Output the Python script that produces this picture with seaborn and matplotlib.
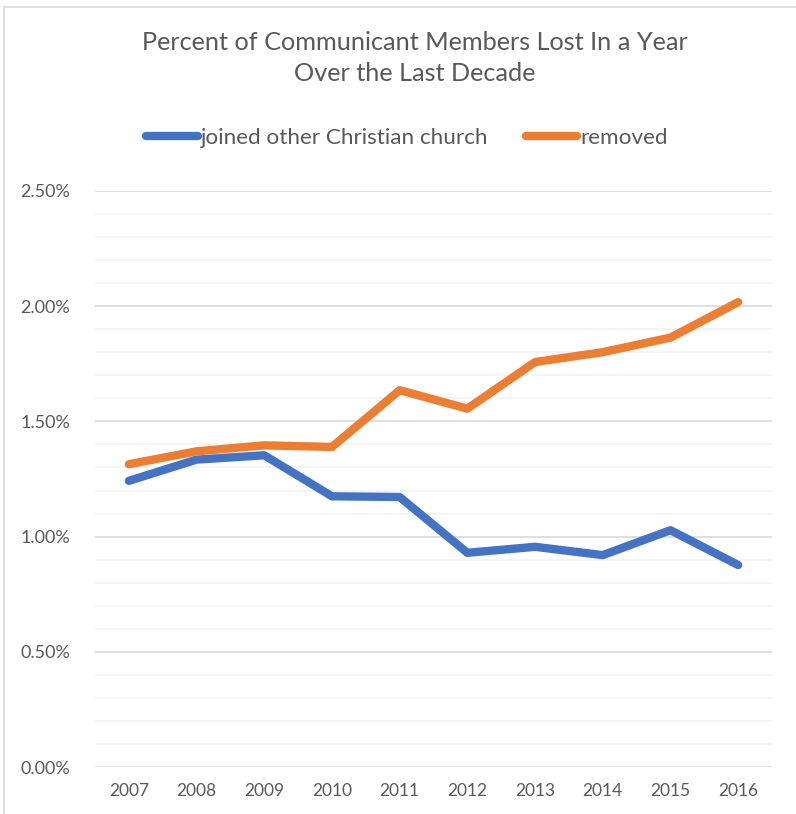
import matplotlib
matplotlib.use("Agg")
import matplotlib.pyplot as plt
from matplotlib.patches import Rectangle
from matplotlib.ticker import MultipleLocator, FuncFormatter
import seaborn as sns
import pandas as pd

years = ["2007", "2008", "2009", "2010", "2011", "2012", "2013", "2014", "2015", "2016"]
joined_other = [1.242, 1.334, 1.353, 1.175, 1.172, 0.930, 0.956, 0.920, 1.028, 0.877]
removed = [1.314, 1.370, 1.396, 1.389, 1.635, 1.555, 1.757, 1.800, 1.863, 2.017]
series_names = ["joined other Christian church", "removed"]
title_text = "Percent of Communicant Members Lost In a Year\nOver the Last Decade"

df = pd.DataFrame({
    "year": years * 2,
    "pct": joined_other + removed,
    "series": [series_names[0]] * len(years) + [series_names[1]] * len(years),
})

sns.set_theme(style="white")
plt.rcParams["font.family"] = ["Lato", "DejaVu Sans"]
text_color = "#595959"

fig = plt.figure(figsize=(7.96, 8.14), dpi=100)
ax = fig.add_axes([95 / 796, 1 - 767.3 / 814, 677 / 796, (767.3 - 190.7) / 814])

# outer chart border (only left and top edges fall within the canvas)
fig.patches.append(Rectangle((4 / 796, -0.1), 2.0, 1 - 7 / 814 + 0.1,
                             transform=fig.transFigure, fill=False,
                             edgecolor="#d9d9d9", linewidth=1.2, zorder=0))

sns.lineplot(data=df, x="year", y="pct", hue="series", ax=ax,
             palette=["#4472C4", "#ED7D31"], linewidth=6,
             solid_capstyle="round", solid_joinstyle="round",
             sort=False, legend=False, zorder=3)

ax.set_xlim(-0.5, len(years) - 0.5)
ax.set_ylim(0, 2.5)
ax.yaxis.set_major_locator(MultipleLocator(0.5))
ax.yaxis.set_minor_locator(MultipleLocator(0.1))
ax.yaxis.set_major_formatter(FuncFormatter(lambda v, _: f"{v:.2f}%"))
ax.grid(which="major", axis="y", color="#d9d9d9", linewidth=1.2)
ax.grid(which="minor", axis="y", color="#f2f2f2", linewidth=1.2)
ax.grid(axis="x", visible=False)
ax.set_axisbelow(True)
for s in ax.spines.values():
    s.set_visible(False)
ax.tick_params(axis="both", which="both", length=0, colors=text_color)
ax.tick_params(axis="y", labelsize=13, pad=18)
ax.tick_params(axis="x", labelsize=12.5, pad=11)
ax.set_xlabel("")
ax.set_ylabel("")

fig.text(0.5215, 1 - 58 / 814, title_text, ha="center", va="center",
         fontsize=18.2, color=text_color, fontweight="normal", linespacing=1.38)

handles = [plt.Line2D([], [], color=c, linewidth=6, solid_capstyle="round")
           for c in ["#4472C4", "#ED7D31"]]
fig.legend(handles, series_names, loc="center", ncol=2,
           bbox_to_anchor=(0.5115, 1 - 138 / 814), frameon=False,
           fontsize=16.2, labelcolor=text_color, handlelength=2.3,
           handletextpad=0.15, columnspacing=1.65)

fig.savefig("out.png", dpi=100, facecolor="white")
